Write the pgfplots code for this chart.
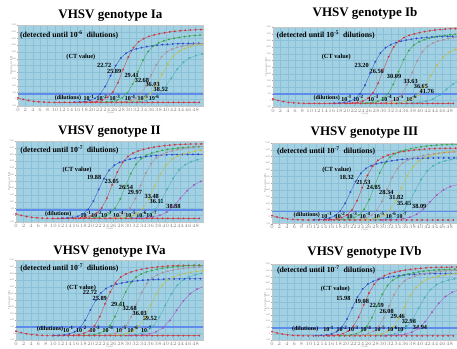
\documentclass[border=0pt]{standalone}
\usepackage{fontspec}
\setmainfont{Liberation Serif}
\usepackage{pgfplots}
\usepackage{pgfplotstable}
\pgfplotsset{compat=1.18}

\definecolor{bgc}{RGB}{162,209,227}
\definecolor{gridc}{RGB}{140,192,214}
\definecolor{thrc}{RGB}{95,140,235}
\definecolor{cb}{RGB}{45,75,205}
\definecolor{cr}{RGB}{205,55,65}
\definecolor{cg}{RGB}{55,165,70}
\definecolor{cgr}{RGB}{175,140,150}
\definecolor{cy}{RGB}{195,190,70}
\definecolor{cc}{RGB}{70,175,185}
\definecolor{cp}{RGB}{165,85,195}

\newcommand\titf{\fontsize{13}{15}\selectfont\bfseries}
\newcommand\detf{\fontsize{7.8}{9}\selectfont\bfseries}
\newcommand\ctf{\fontsize{6.3}{7}\selectfont\bfseries}
\newcommand\dilf{\fontsize{6}{7}\selectfont\bfseries}

% common amplification-curve template: offset k from the threshold cycle, normalised signal f
\pgfplotstableread{
k f
-7.0 0.003
-5.6 0.006
-4.2 0.014
-2.8 0.032
-1.4 0.068
0.0 0.140
1.4 0.270
2.8 0.450
4.2 0.620
5.6 0.750
7.0 0.830
8.4 0.875
9.8 0.905
11.2 0.925
12.6 0.942
14.0 0.955
15.4 0.966
16.8 0.975
18.2 0.982
19.6 0.988
21.0 0.992
22.4 0.995
23.8 0.997
25.2 0.998
26.6 0.999
28.0 1.000
29.4 1.000
30.8 1.000
32.2 1.000
33.6 1.000
35.0 1.000
}\shapetab

\pgfplotstableread{
x dy
0.0 0.055
1.4 0.037
2.8 0.023
4.2 0.013
5.6 0.007
7.0 0.003
8.4 0.001
9.8 0.000
11.2 0.000
12.6 0.000
14.0 0.000
15.4 0.000
16.8 0.000
18.2 0.000
19.6 0.000
21.0 0.000
22.4 0.000
23.8 0.000
25.2 0.000
26.6 0.000
28.0 0.000
29.4 0.000
30.8 0.000
32.2 0.000
33.6 0.000
35.0 0.000
36.4 0.000
37.8 0.000
39.2 0.000
40.6 0.000
42.0 0.000
43.4 0.000
44.8 0.000
46.2 0.000
47.6 0.000
49.0 0.000
}\basetab

\pgfplotsset{
 vhsv/.style={
  scale only axis, width=185pt, height=81pt,
  xmin=0, xmax=50, ymin=0, ymax=1,
  axis background/.style={fill=bgc},
  grid=major, major grid style={draw=gridc, line width=0.25pt},
  xtick={0,2,...,48},
  ytick={0,0.0833,0.1667,0.25,0.3333,0.4167,0.5,0.5833,0.6667,0.75,0.8333,0.9167,1},
  yticklabels={-500,0,500,1000,1500,2000,2500,3000,3500,4000,4500,5000,5500},
  xticklabel style={font=\fontsize{2.2}{2.5}\selectfont, text=gray, inner sep=0.6pt},
  yticklabel style={font=\fontsize{2.2}{2.5}\selectfont, text=gray, inner sep=0.6pt},
  tick style={draw=gray!70, line width=0.2pt},
  major tick length=1.2pt, tick align=outside, tick pos=left,
  axis line style={draw=gray!45, line width=0.4pt},
  xlabel={Cycles}, ylabel={Fluorescence (dR)},
  xlabel style={font=\fontsize{2.5}{3}\selectfont, text=gray, yshift=4pt},
  ylabel style={font=\fontsize{2.5}{3}\selectfont, text=gray, yshift=-5pt},
  title style={font=\titf, at={(0.5,1)}, anchor=base, inner sep=0pt},
 },
 thr/.style={draw=thrc, line width=1.7pt, no markers},
 basel/.style={draw=cr, mark=*, mark size=0.8pt, mark options={fill=cr,draw=cr}, line width=0.3pt},
}

% colour, threshold cycle, plateau height, stretch
\newcommand\crv[4]{\addplot[draw=#1, mark=*, mark size=0.8pt, mark options={fill=#1,draw=#1}, line width=0.3pt] table[x expr={#2+#4*\thisrow{k}}, y expr={\base+#3*\thisrow{f}}] {\shapetab};}
\newcommand\ctl[3]{\node[font=\ctf, inner sep=0pt] at (axis cs:#1,#2) {#3};}
\newcommand\dil[3]{\node[font=\dilf, inner sep=0pt] at (axis cs:#1,#2) {#3};}
\newcommand\bl{\addplot[basel] table[x=x, y expr={\base+\thisrow{dy}}] {\basetab};}

\begin{document}
\begin{tikzpicture}
\useasboundingbox (0,0) rectangle (457pt,348pt);

% ---------------- Ia
\def\base{0.045}
\begin{axis}[vhsv, at={(18pt,323pt)}, anchor=north west, title={VHSV genotype Ia}, title style={yshift=0.7pt}]
\addplot[thr] coordinates {(0,0.148) (50,0.148)};
\crv{cb}{22.2}{0.73}{1}
\crv{cr}{25.6}{0.90}{1}
\crv{cg}{29.6}{0.84}{1}
\crv{cgr}{33.2}{0.75}{1}
\crv{cy}{35.8}{0.76}{1.1}
\crv{cc}{38.0}{0.66}{1.2}
\bl
\node[font=\detf, anchor=west, inner sep=0pt] at (axis cs:0.5,0.88) {(detected until 10\textsuperscript{-6}\ \ dilutions)};
\ctl{17}{0.60}{(CT value)}
\ctl{23.3}{0.50}{22.72}
\ctl{26.0}{0.43}{25.89}
\ctl{30.7}{0.38}{29.41}
\ctl{33.5}{0.31}{32.68}
\ctl{36.4}{0.26}{36.03}
\ctl{38.6}{0.20}{38.52}
\dil{13.5}{0.10}{(dilutions)}
\dil{19.2}{0.10}{10\textsuperscript{-1}}
\dil{22.7}{0.10}{10\textsuperscript{-2}}
\dil{26.2}{0.10}{10\textsuperscript{-3}}
\dil{30.3}{0.10}{10\textsuperscript{-4}}
\dil{33.8}{0.10}{10\textsuperscript{-5}}
\dil{36.8}{0.10}{10\textsuperscript{-6}}
\end{axis}

% ---------------- Ib
\def\base{0.045}
\begin{axis}[vhsv, width=184pt, height=80pt, at={(273pt,321pt)}, anchor=north west, title={VHSV genotype Ib}, title style={yshift=4.6pt}]
\addplot[thr] coordinates {(0,0.16) (50,0.16)};
\crv{cb}{23.6}{0.84}{1}
\crv{cr}{27.2}{0.94}{1}
\crv{cg}{31.3}{0.88}{1}
\crv{cgr}{35.0}{0.86}{1}
\crv{cy}{39.5}{0.77}{1.2}
\crv{cc}{43.5}{0.39}{1.3}
\bl
\node[font=\detf, anchor=west, inner sep=0pt] at (axis cs:0.9,0.90) {(detected until 10\textsuperscript{-5}\ \ dilutions)};
\ctl{17.2}{0.63}{(CT value)}
\ctl{24.1}{0.52}{23.20}
\ctl{28.2}{0.44}{26.56}
\ctl{32.9}{0.38}{30.09}
\ctl{37.4}{0.32}{33.63}
\ctl{40.2}{0.26}{36.65}
\ctl{41.8}{0.20}{41.76}
\dil{14.6}{0.11}{(dilutions)}
\dil{20.0}{0.11}{10\textsuperscript{-1}}
\dil{23.2}{0.11}{10\textsuperscript{-2}}
\dil{27.3}{0.11}{10\textsuperscript{-3}}
\dil{30.9}{0.11}{10\textsuperscript{-4}}
\dil{34.1}{0.11}{10\textsuperscript{-5}}
\dil{37.7}{0.11}{10\textsuperscript{-6}}
\end{axis}

% ---------------- II
\def\base{0.045}
\begin{axis}[vhsv, width=187pt, height=81pt, at={(16pt,207pt)}, anchor=north west, title={VHSV genotype II}, title style={yshift=0.7pt}]
\addplot[thr] coordinates {(0,0.144) (50,0.144)};
\crv{cb}{19.3}{0.79}{1}
\crv{cr}{22.9}{0.92}{1}
\crv{cg}{26.5}{0.89}{1}
\crv{cgr}{30.5}{0.90}{1}
\crv{cy}{34.0}{0.88}{1.1}
\crv{cc}{37.2}{0.80}{1.15}
\crv{cp}{40.3}{0.55}{1.3}
\bl
\node[font=\detf, anchor=west, inner sep=0pt] at (axis cs:1.1,0.885) {(detected until 10\textsuperscript{-7}\ \ dilutions)};
\ctl{16.3}{0.64}{(CT value)}
\ctl{20.9}{0.55}{19.88}
\ctl{25.6}{0.50}{23.05}
\ctl{29.4}{0.43}{26.54}
\ctl{31.8}{0.37}{29.97}
\ctl{36.3}{0.31}{33.48}
\ctl{37.6}{0.25}{36.11}
\ctl{42.1}{0.19}{38.88}
\dil{11.3}{0.095}{(dilutions)}
\dil{18.7}{0.095}{10\textsuperscript{-1}}
\dil{21.6}{0.095}{10\textsuperscript{-2}}
\dil{24.2}{0.095}{10\textsuperscript{-3}}
\dil{27.4}{0.095}{10\textsuperscript{-4}}
\dil{30.7}{0.095}{10\textsuperscript{-5}}
\dil{33.6}{0.095}{10\textsuperscript{-6}}
\dil{36.3}{0.095}{10\textsuperscript{-7}}
\end{axis}

% ---------------- III
\def\base{0.045}
\begin{axis}[vhsv, width=185pt, height=80.6pt, at={(272pt,205pt)}, anchor=north west, title={VHSV genotype III}, title style={yshift=1.4pt}]
\addplot[thr] coordinates {(0,0.15) (50,0.15)};
\crv{cb}{18.4}{0.77}{1}
\crv{cr}{21.6}{0.89}{1}
\crv{cg}{24.9}{0.94}{1}
\crv{cgr}{28.3}{0.85}{1}
\crv{cy}{31.9}{0.88}{1.1}
\crv{cc}{35.5}{0.81}{1.15}
\crv{cp}{39.1}{0.50}{1.3}
\bl
\node[font=\detf, anchor=west, inner sep=0pt] at (axis cs:1.3,0.905) {(detected until 10\textsuperscript{-7}\ \ dilutions)};
\ctl{17.5}{0.66}{(CT value)}
\ctl{20.2}{0.57}{18.32}
\ctl{24.7}{0.505}{21.53}
\ctl{27.5}{0.45}{24.85}
\ctl{30.9}{0.385}{28.34}
\ctl{33.6}{0.32}{31.82}
\ctl{35.7}{0.25}{35.45}
\ctl{39.8}{0.21}{38.09}
\dil{9.4}{0.10}{(dilutions)}
\dil{14.8}{0.10}{10\textsuperscript{-1}}
\dil{18.4}{0.10}{10\textsuperscript{-2}}
\dil{21.6}{0.10}{10\textsuperscript{-3}}
\dil{25.2}{0.10}{10\textsuperscript{-4}}
\dil{29.0}{0.10}{10\textsuperscript{-5}}
\dil{32.2}{0.10}{10\textsuperscript{-6}}
\dil{35.1}{0.10}{10\textsuperscript{-7}}
\end{axis}

% ---------------- IVa
\def\base{0.055}
\begin{axis}[vhsv, width=187pt, height=80pt, at={(16pt,88pt)}, anchor=north west, title={VHSV genotype IVa}, title style={yshift=-0.4pt}]
\addplot[thr] coordinates {(0,0.165) (50,0.165)};
\crv{cb}{17.1}{0.71}{1}
\crv{cr}{21.0}{0.88}{1}
\crv{cg}{25.1}{0.88}{1}
\crv{cgr}{29.4}{0.87}{1}
\crv{cy}{32.9}{0.84}{1.1}
\crv{cc}{36.7}{0.84}{1.15}
\crv{cp}{39.3}{0.70}{1.3}
\bl
\node[font=\detf, anchor=west, inner sep=0pt] at (axis cs:1.1,0.90) {(detected until 10\textsuperscript{-7}\ \ dilutions)};
\ctl{17.5}{0.65}{(CT value)}
\ctl{19.8}{0.59}{22.72}
\ctl{22.4}{0.52}{25.89}
\ctl{27.3}{0.45}{29.41}
\ctl{30.4}{0.39}{32.68}
\ctl{33.1}{0.33}{36.03}
\ctl{35.8}{0.27}{39.52}
\dil{9.1}{0.135}{(dilutions)}
\dil{14.0}{0.135}{10\textsuperscript{-1}}
\dil{17.5}{0.135}{10\textsuperscript{-2}}
\dil{21.1}{0.135}{10\textsuperscript{-3}}
\dil{24.6}{0.135}{10\textsuperscript{-4}}
\dil{28.2}{0.135}{10\textsuperscript{-5}}
\dil{31.3}{0.135}{10\textsuperscript{-6}}
\dil{34.9}{0.135}{10\textsuperscript{-7}}
\end{axis}

% ---------------- IVb
\def\base{0.055}
\begin{axis}[vhsv, width=185pt, height=76pt, at={(272pt,84pt)}, anchor=north west, title={VHSV genotype IVb}, title style={yshift=3pt}]
\addplot[thr] coordinates {(0,0.16) (50,0.16)};
\crv{cb}{18.9}{0.82}{1}
\crv{cr}{22.0}{0.905}{1}
\crv{cg}{25.6}{0.88}{1}
\crv{cgr}{28.8}{0.87}{1}
\crv{cy}{32.8}{0.85}{1.1}
\crv{cc}{36.4}{0.81}{1.15}
\crv{cp}{39.6}{0.69}{1.3}
\bl
\node[font=\detf, anchor=west, inner sep=0pt] at (axis cs:1.3,0.92) {(detected until 10\textsuperscript{-7}\ \ dilutions)};
\ctl{17.1}{0.67}{(CT value)}
\ctl{19.3}{0.55}{15.98}
\ctl{24.3}{0.51}{19.08}
\ctl{28.3}{0.45}{22.59}
\ctl{31.0}{0.38}{26.08}
\ctl{34.0}{0.31}{29.46}
\ctl{37.0}{0.24}{32.98}
\ctl{40.0}{0.17}{34.94}
\dil{9.0}{0.146}{(dilutions)}
\dil{15.3}{0.146}{10\textsuperscript{-1}}
\dil{18.9}{0.146}{10\textsuperscript{-2}}
\dil{22.0}{0.146}{10\textsuperscript{-3}}
\dil{25.4}{0.146}{10\textsuperscript{-4}}
\dil{29.2}{0.146}{10\textsuperscript{-5}}
\dil{32.6}{0.146}{10\textsuperscript{-6}}
\dil{35.3}{0.146}{10\textsuperscript{-7}}
\end{axis}
\end{tikzpicture}
\end{document}
